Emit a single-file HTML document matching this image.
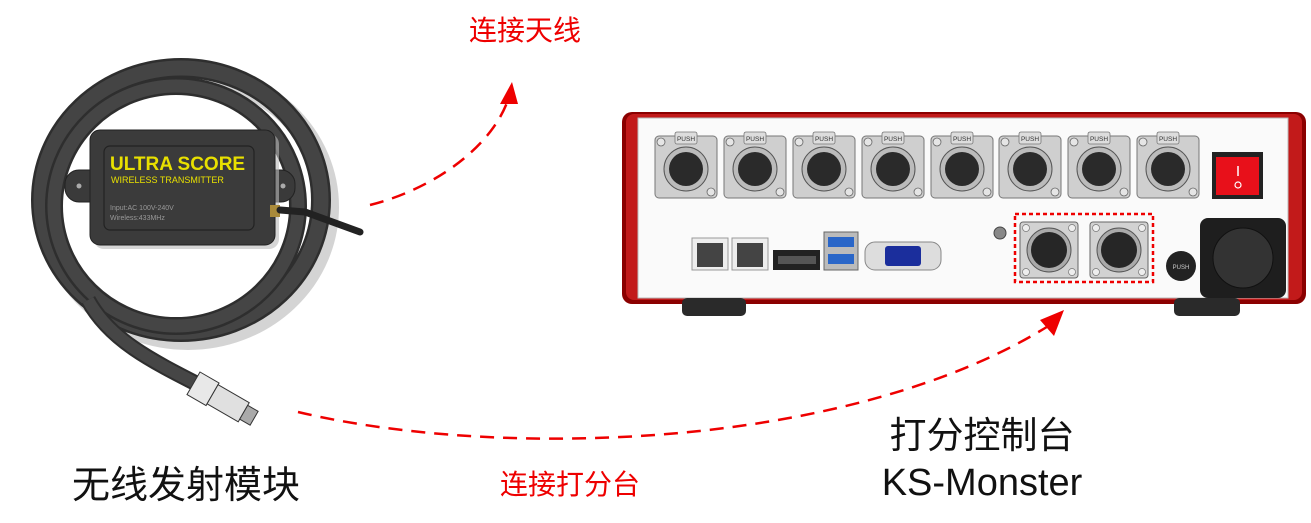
<!DOCTYPE html>
<html><head><meta charset="utf-8"><style>
html,body{margin:0;padding:0;background:#fff;}
svg{display:block;}
text{font-family:"Liberation Sans","Noto Sans CJK SC",sans-serif;}
</style></head><body>
<svg width="1311" height="523" viewBox="0 0 1311 523" xmlns="http://www.w3.org/2000/svg">
<defs>
<g id="xlr">
 <rect x="0" y="4" width="62" height="62" rx="4" fill="#cfcfcf" stroke="#777" stroke-width="1"/>
 <rect x="20" y="0" width="22" height="12" rx="2" fill="#ddd" stroke="#777" stroke-width="0.8"/>
 <text x="31" y="9" font-size="6.5" text-anchor="middle" fill="#333">PUSH</text>
 <circle cx="31" cy="37" r="22" fill="#bbb" stroke="#555"/>
 <circle cx="31" cy="37" r="17" fill="#2a2a2a"/>
 <circle cx="6" cy="10" r="4" fill="#e5e5e5" stroke="#666" stroke-width="0.8"/>
 <circle cx="56" cy="60" r="4" fill="#e5e5e5" stroke="#666" stroke-width="0.8"/>
</g>
<g id="sq">
 <rect x="0" y="0" width="58" height="56" rx="3" fill="#d2d2d2" stroke="#666"/>
 <circle cx="29" cy="28" r="22" fill="#aaa" stroke="#555"/>
 <circle cx="29" cy="28" r="18" fill="#262626"/>
 <circle cx="6" cy="6" r="3.5" fill="#eee" stroke="#777" stroke-width="0.7"/>
 <circle cx="52" cy="6" r="3.5" fill="#eee" stroke="#777" stroke-width="0.7"/>
 <circle cx="6" cy="50" r="3.5" fill="#eee" stroke="#777" stroke-width="0.7"/>
 <circle cx="52" cy="50" r="3.5" fill="#eee" stroke="#777" stroke-width="0.7"/>
</g>
</defs>

<!-- cable coil -->
<ellipse cx="183" cy="202" rx="140" ry="132" fill="none" stroke="#aaa" stroke-width="22" opacity="0.5" transform="translate(5,5)"/>
<ellipse cx="181" cy="200" rx="140" ry="132" fill="none" stroke="#2e2e2e" stroke-width="20"/>
<ellipse cx="181" cy="200" rx="140" ry="132" fill="none" stroke="#444" stroke-width="15"/>
<ellipse cx="176" cy="206" rx="122" ry="120" fill="none" stroke="#2e2e2e" stroke-width="18"/>
<ellipse cx="176" cy="206" rx="122" ry="120" fill="none" stroke="#454545" stroke-width="13"/>
<path d="M88,300 C110,340 150,360 205,388" fill="none" stroke="#2e2e2e" stroke-width="16"/>
<path d="M88,300 C110,340 150,360 205,388" fill="none" stroke="#464646" stroke-width="12"/>
<!-- connector -->
<g transform="translate(200,372) rotate(30)">
 <rect x="0" y="0" width="22" height="26" fill="#e8e8e8" stroke="#333"/>
 <rect x="22" y="2" width="36" height="22" fill="#e0e0e0" stroke="#333"/>
 <rect x="58" y="5" width="12" height="16" fill="#aaa" stroke="#333"/>
</g>
<!-- box ears -->
<rect x="65" y="170" width="230" height="32" rx="14" fill="#3a3a3a" stroke="#222"/>
<circle cx="79" cy="186" r="2.5" fill="#aaa"/><circle cx="283" cy="186" r="2.5" fill="#aaa"/>
<!-- box -->
<rect x="94" y="134" width="185" height="115" rx="10" fill="#bbb" opacity="0.6"/>
<rect x="90" y="130" width="185" height="115" rx="10" fill="#3b3b3b" stroke="#222"/>
<rect x="104" y="146" width="150" height="84" rx="6" fill="none" stroke="#222" stroke-width="1.2"/>
<text x="110" y="170" font-size="19" font-weight="bold" fill="#e8e000">ULTRA SCORE</text>
<text x="111" y="183" font-size="9" fill="#e8e000">WIRELESS TRANSMITTER</text>
<text x="110" y="210" font-size="7" fill="#999">Input:AC 100V-240V</text>
<text x="110" y="220" font-size="7" fill="#999">Wireless:433MHz</text>
<!-- antenna -->
<rect x="270" y="205" width="10" height="12" fill="#a98a3a"/>
<path d="M280,210 L305,212 L360,232" fill="none" stroke="#222" stroke-width="7" stroke-linecap="round"/>

<!-- device -->
<rect x="622" y="112" width="684" height="192" rx="10" fill="#8b0000"/>
<rect x="626" y="114" width="676" height="186" rx="8" fill="#c21a1a"/>
<rect x="638" y="118" width="650" height="180" fill="#fafafa" stroke="#bbb"/>
<rect x="682" y="298" width="64" height="18" rx="5" fill="#2a2a2a"/>
<rect x="1174" y="298" width="66" height="18" rx="5" fill="#2a2a2a"/>
<use href="#xlr" x="655" y="132"/>
<use href="#xlr" x="724" y="132"/>
<use href="#xlr" x="793" y="132"/>
<use href="#xlr" x="862" y="132"/>
<use href="#xlr" x="931" y="132"/>
<use href="#xlr" x="999" y="132"/>
<use href="#xlr" x="1068" y="132"/>
<use href="#xlr" x="1137" y="132"/>
<!-- switch -->
<rect x="1212" y="152" width="51" height="47" fill="#222"/>
<rect x="1216" y="157" width="43" height="38" fill="#e8101a"/>
<line x1="1238" y1="166" x2="1238" y2="176" stroke="#fff" stroke-width="1.5"/>
<circle cx="1238" cy="185" r="3" fill="none" stroke="#fff" stroke-width="1.2"/>
<!-- ports -->
<rect x="692" y="238" width="36" height="32" fill="#eee" stroke="#999"/>
<rect x="697" y="243" width="26" height="24" fill="#444"/>
<rect x="732" y="238" width="36" height="32" fill="#eee" stroke="#999"/>
<rect x="737" y="243" width="26" height="24" fill="#444"/>
<rect x="773" y="250" width="47" height="20" fill="#222"/>
<rect x="778" y="256" width="38" height="8" fill="#555"/>
<rect x="824" y="232" width="34" height="38" fill="#bbb" stroke="#666"/>
<rect x="828" y="237" width="26" height="10" fill="#2a66c8"/>
<rect x="828" y="254" width="26" height="10" fill="#2a66c8"/>
<rect x="865" y="242" width="76" height="28" rx="10" fill="#ddd" stroke="#888"/>
<rect x="885" y="246" width="36" height="20" rx="3" fill="#1b2e9c"/>
<circle cx="1000" cy="233" r="6" fill="#888" stroke="#444"/>
<rect x="1015" y="214" width="138" height="68" fill="none" stroke="#e00" stroke-width="2.5" stroke-dasharray="4,3"/>
<use href="#sq" x="1020" y="222"/>
<use href="#sq" x="1090" y="222"/>
<circle cx="1181" cy="266" r="15" fill="#222"/>
<text x="1181" y="269" font-size="6" fill="#ccc" text-anchor="middle">PUSH</text>
<rect x="1200" y="218" width="86" height="80" rx="8" fill="#1e1e1e"/>
<circle cx="1243" cy="258" r="30" fill="#333" stroke="#111"/>

<!-- dashed arrows -->
<path d="M370,205 C430,190 490,150 508,100" fill="none" stroke="#ee0000" stroke-width="2.5" stroke-dasharray="14,9"/>
<polygon points="512,82 500,104 518,104" fill="#ee0000"/>
<path d="M298,412 C500,460 850,450 1050,325" fill="none" stroke="#ee0000" stroke-width="2.5" stroke-dasharray="14,9"/>
<polygon points="1064,310 1040,320 1054,336" fill="#ee0000"/>

<!-- labels -->
<text x="525" y="40" font-size="28" fill="#ee0000" text-anchor="middle">连接天线</text>
<text x="570" y="494" font-size="28" fill="#ee0000" text-anchor="middle">连接打分台</text>
<text x="186" y="498" font-size="38" fill="#111" text-anchor="middle">无线发射模块</text>
<text x="982" y="448" font-size="37" fill="#111" text-anchor="middle">打分控制台</text>
<text x="982" y="495" font-size="38" fill="#111" text-anchor="middle">KS-Monster</text>
</svg>
</body></html>
